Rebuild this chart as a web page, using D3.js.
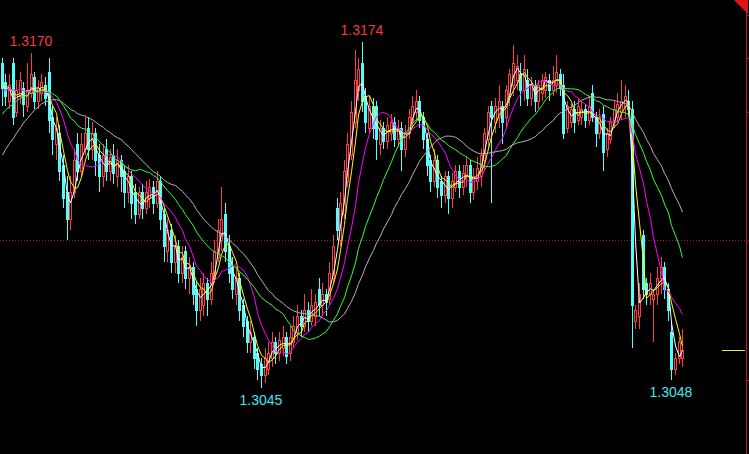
<!DOCTYPE html>
<html><head><meta charset="utf-8">
<script src="https://cdn.jsdelivr.net/npm/d3@7"></script>
<style>html,body{margin:0;padding:0;background:#000;}svg{display:block;}</style>
</head><body>
<svg id="c" width="749" height="454"></svg>
<script>
// Prices in pips above 1.3000 (e.g. 174 = 1.3174)
const opens = [
166,159,152,166,148,154,157,150,155,161,152,155,158,163,146,136,140,128,118,108,
118,136,126,134,142,134,140,132,124,134,126,132,124,130,126,118,124,118,110,118,
112,116,120,114,122,110,96,104,92,98,88,96,86,90,82,74,76,84,78,86,
94,100,110,98,90,80,86,76,70,62,64,58,54,50,52,56,62,58,60,64,
58,62,66,72,68,74,70,72,82,76,80,78,86,112,100,110,122,132,144,156,
166,154,142,150,150,136,142,137,140,144,138,142,134,140,144,148,152,146,138,130,
122,130,122,117,124,116,120,126,120,124,128,118,122,124,130,138,150,144,146,150,
146,154,158,160,162,156,160,153,158,152,155,156,160,156,158,162,158,142,144,149,
145,146,149,145,155,146,140,147,134,138,144,146,148,150,152,149,70,72,102,84,
80,78,80,86,90,82,66,52,56,56];
const highs = [
168,162,162,168,160,163,159,166,170,163,160,162,161,168,150,146,143,132,124,124,
134,140,140,146,146,144,142,136,136,138,134,136,134,132,128,128,126,121,120,121,
122,123,122,126,124,112,108,106,102,100,98,98,94,92,85,86,88,86,92,100,
108,120,114,102,94,90,88,78,72,70,66,60,56,60,62,66,64,66,68,66,
68,72,76,74,80,77,82,80,86,84,82,92,102,116,118,130,140,152,171,168,
174,157,154,153,152,145,144,146,147,146,145,144,143,149,154,156,154,148,140,132,
134,132,124,126,126,125,128,128,128,131,130,127,131,134,142,150,152,153,158,152,
158,164,173,169,166,169,164,161,160,160,162,163,162,165,169,164,162,152,151,152,
153,152,151,154,158,148,149,150,142,146,152,155,160,158,156,152,76,84,104,86,
88,82,90,94,92,84,70,58,64,67];
const lows = [
150,150,149,143,146,151,146,148,153,149,149,152,150,140,132,130,122,112,100,104,
116,122,124,132,130,130,124,118,120,122,122,121,120,118,112,114,108,106,108,108,
110,112,110,112,104,92,92,88,88,84,84,82,80,76,68,70,72,72,76,84,
92,96,92,84,78,76,70,64,58,58,52,48,45,47,50,53,54,55,57,54,
55,60,63,64,66,66,68,68,72,72,72,76,84,100,98,108,120,130,142,152,
148,140,140,138,130,132,134,134,137,135,135,126,131,138,142,145,142,134,124,118,
120,116,112,114,110,112,118,116,117,120,114,115,119,120,126,134,114,140,142,136,
142,150,154,156,150,152,150,150,148,149,152,153,152,154,155,154,138,140,142,140,
143,143,142,143,144,135,138,126,131,136,142,144,145,146,146,60,67,67,78,76,
76,62,76,80,78,70,48,50,54,53];
const closes = [
157,154,158,146,156,160,151,156,162,152,157,159,153,145,138,142,126,116,108,118,
130,126,136,140,134,140,130,124,132,126,131,125,130,124,118,124,114,110,118,112,
118,120,114,122,108,98,104,92,98,88,94,86,90,80,74,82,84,78,88,96,
104,108,96,88,82,86,74,68,62,66,56,52,50,56,58,62,58,63,64,57,
64,68,72,68,74,70,76,77,76,80,77,88,98,104,114,126,136,148,160,164,
152,144,150,142,138,142,137,143,144,138,142,134,140,146,150,152,145,138,128,122,
130,120,117,124,116,122,126,120,125,128,118,124,127,132,140,148,146,150,152,144,
156,162,166,165,156,164,153,158,152,158,160,161,156,160,163,157,140,150,149,144,
150,149,145,150,146,140,146,133,140,144,149,151,152,154,149,76,74,80,82,80,
84,80,86,90,82,74,52,56,62,59];
// closes preceding the visible window (feed the moving averages only)
const priorCloses = [84,88,92,90,96,100,98,104,108,112,122,126,130,128,134,138,140,144,146,148,
150,152,154,151,155,158,156,160,157,159];
const maPeriods = [3, 5, 10, 20, 30];
const maColors = ["#ffffff", "#ffff00", "#ff00ff", "#33ff33", "#b4b4b4"];
const axisTicks = [184, 168, 148, 100, 48];
const refLevel = 100;          // 1.3100 dotted line
const highLabels = [{i: 8, text: "1.3170"}, {i: 100, text: "1.3174"}];
const lowLabels = [{i: 72, text: "1.3045"}, {i: 186, text: "1.3048"}];

const UP = "#ff3c3c", DOWN = "#54fcfc", AXIS = "#b01e1e";
const svg = d3.select("#c");
svg.append("rect").attr("width", 749).attr("height", 454).attr("fill", "#000");

const N = closes.length;
const x = d3.scaleBand().domain(d3.range(N)).range([0, 684]);
const cx = i => Math.round(x(i) + x.bandwidth() / 2);
const y = d3.scaleLinear().domain([d3.min(lows), d3.max(highs)]).range([388, 42]);

// reference dotted line
svg.append("line").attr("x1", 0).attr("x2", 746).attr("y1", Math.round(y(refLevel)) + 0.5).attr("y2", Math.round(y(refLevel)) + 0.5)
  .attr("stroke", AXIS).attr("stroke-dasharray", "1,2");

// right axis
const axis = d3.axisRight(y).tickValues(axisTicks).tickSize(3).tickFormat("");
const ag = svg.append("g").attr("transform", "translate(746.5,0)").call(axis);
ag.select(".domain").remove();
ag.selectAll("line").attr("stroke", AXIS);
svg.append("line").attr("x1", 746.5).attr("x2", 746.5).attr("y1", 0).attr("y2", 454).attr("stroke", AXIS);
svg.append("path").attr("d", "M734,0L748,0L748,14Z").attr("fill", "#e01414");

// candles
const cg = svg.append("g");
d3.range(N).forEach(i => {
  const o = opens[i], c = closes[i], h = highs[i], l = lows[i];
  const up = c >= o;
  const col = up ? UP : DOWN;
  const X = cx(i);
  const top = Math.round(y(Math.max(o, c))), bot = Math.round(y(Math.min(o, c)));
  const yh = Math.round(y(h)), yl = Math.round(y(l));
  if (yh < top) cg.append("line").attr("x1", X + 0.5).attr("x2", X + 0.5).attr("y1", yh).attr("y2", top).attr("stroke", col);
  if (yl > bot) cg.append("line").attr("x1", X + 0.5).attr("x2", X + 0.5).attr("y1", bot).attr("y2", yl).attr("stroke", col);
  if (up) {
    cg.append("rect").attr("x", X - 0.5).attr("y", top + 0.5).attr("width", 2).attr("height", Math.max(0, bot - top))
      .attr("fill", "none").attr("stroke", col);
  } else {
    cg.append("rect").attr("x", X - 1).attr("y", top).attr("width", 3).attr("height", Math.max(1, bot - top + 1))
      .attr("fill", col);
  }
});

// moving averages
const all = priorCloses.concat(closes);
const P = priorCloses.length;
maPeriods.forEach((p, k) => {
  const pts = d3.range(N).map(i => {
    const j = i + P;
    return [cx(i) + 0.5, y(d3.mean(all.slice(j - p + 1, j + 1)))];
  });
  svg.append("path").attr("d", d3.line()(pts)).attr("fill", "none").attr("stroke", maColors[k]).attr("stroke-width", 1);
});

// last price marker
svg.append("line").attr("x1", 722).attr("x2", 745).attr("y1", Math.round(y(closes[N - 1])) + 0.5).attr("y2", Math.round(y(closes[N - 1])) + 0.5)
  .attr("stroke", "#e8e870");

// extreme labels
highLabels.forEach(d => {
  svg.append("text").attr("x", cx(d.i)).attr("y", y(highs[d.i]) - 7).attr("text-anchor", "middle")
    .attr("font-family", "Liberation Sans, Arial, sans-serif").attr("font-size", 14).attr("fill", "#f03c3c").text(d.text);
});
lowLabels.forEach(d => {
  svg.append("text").attr("x", cx(d.i)).attr("y", y(lows[d.i]) + 17).attr("text-anchor", "middle")
    .attr("font-family", "Liberation Sans, Arial, sans-serif").attr("font-size", 14).attr("fill", "#40e8f0").text(d.text);
});
</script>
</body></html>
